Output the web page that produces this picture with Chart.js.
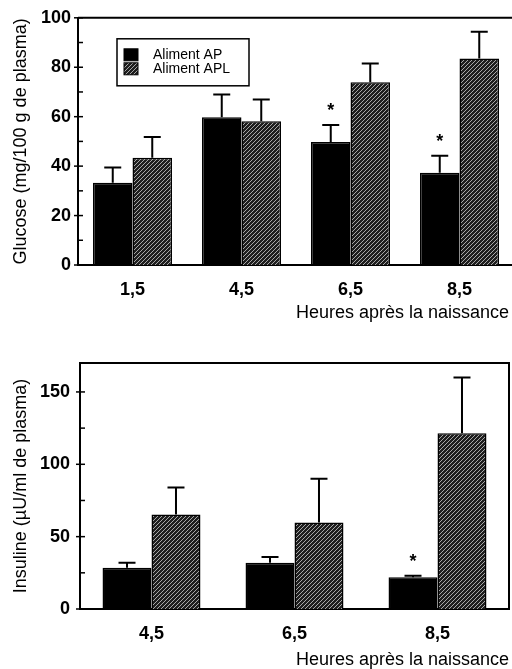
<!DOCTYPE html>
<html>
<head>
<meta charset="utf-8">
<script src="https://cdn.jsdelivr.net/npm/chart.js@4/dist/chart.umd.min.js"></script>
<style>
  html, body { margin: 0; padding: 0; background: #fff; width: 512px; height: 669px; overflow: hidden; }
  canvas { position: absolute; left: 0; }
  #glucose { top: 0; }
  #insuline { top: 330px; }
</style>
</head>
<body>
<canvas id="glucose" width="520" height="330"></canvas>
<canvas id="insuline" width="512" height="345"></canvas>
<script>
// glucose panel
const glucoseHours = ['1,5', '4,5', '6,5', '8,5'];
const glucoseAP = [33.3, 59.8, 49.8, 37.3];
const glucoseAPL = [43.4, 58.2, 73.9, 83.5];
const glucoseErrAP = [6.1, 9.2, 6.8, 6.9];
const glucoseErrAPL = [8.4, 8.8, 7.6, 10.9];
const glucoseStars = [false, false, true, true];

// insuline panel
const insulineHours = ['4,5', '6,5', '8,5'];
const insulineAP = [28.5, 32, 22];
const insulineAPL = [65.3, 59.7, 121.5];
const insulineErrAP = [3.5, 4, 1];
const insulineErrAPL = [18.7, 30.3, 38.5];
const insulineStars = [false, false, true];

Chart.defaults.font.family = "'Liberation Sans', Arial, sans-serif";
Chart.defaults.color = '#000';

function hatch() {
    const c = document.createElement('canvas');
    c.width = 4; c.height = 4;
    const g = c.getContext('2d');
    g.fillStyle = '#1e1e1e';
    g.fillRect(0, 0, 4, 4);
    g.strokeStyle = '#a8a8a8';
    g.lineWidth = 1;
    g.beginPath();
    g.moveTo(0, 4); g.lineTo(4, 0);
    g.moveTo(-1, 1); g.lineTo(1, -1);
    g.moveTo(3, 5); g.lineTo(5, 3);
    g.stroke();
    return g.createPattern(c, 'repeat');
}
const hatchFill = hatch();

const errorBars = {
    id: 'errorBars',
    afterDatasetsDraw(chart) {
        const ctx = chart.ctx;
        const y = chart.scales.y;
        ctx.save();
        ctx.strokeStyle = '#000';
        ctx.lineWidth = 2;
        chart.data.datasets.forEach((ds, i) => {
            chart.getDatasetMeta(i).data.forEach((bar, j) => {
                const top = y.getPixelForValue(ds.data[j] + ds.errors[j]);
                ctx.beginPath();
                ctx.moveTo(bar.x, bar.y);
                ctx.lineTo(bar.x, top);
                ctx.moveTo(bar.x - 8.5, top);
                ctx.lineTo(bar.x + 8.5, top);
                ctx.stroke();
                if (ds.stars && ds.stars[j]) {
                    ctx.fillStyle = '#000';
                    ctx.font = "bold 18px 'Liberation Sans', Arial, sans-serif";
                    ctx.textAlign = 'center';
                    ctx.textBaseline = 'middle';
                    ctx.fillText('*', bar.x, top - 14);
                }
            });
        });
        ctx.restore();
    }
};

const frame = {
    id: 'frame',
    afterDraw(chart) {
        const {ctx, chartArea: a} = chart;
        ctx.save();
        ctx.strokeStyle = '#000';
        ctx.lineWidth = 2;
        ctx.beginPath();
        ctx.moveTo(a.left, a.top);
        ctx.lineTo(a.right, a.top);
        ctx.lineTo(a.right, a.bottom);
        ctx.stroke();
        // inner tick marks on the y axis
        const y = chart.scales.y;
        const major = chart.options.scales.y.ticks.major;
        y.ticks.forEach(t => {
            const py = y.getPixelForValue(t.value);
            ctx.lineWidth = 1.5;
            ctx.beginPath();
            if (t.value % major === 0) {
                ctx.moveTo(a.left - 4, py);
                ctx.lineTo(a.left + 5, py);
            } else {
                ctx.moveTo(a.left, py);
                ctx.lineTo(a.left + 5, py);
            }
            ctx.stroke();
        });
        ctx.restore();
    }
};

const boxLegend = {
    id: 'boxLegend',
    afterDraw(chart, args, opts) {
        if (!opts.show) return;
        const {ctx, chartArea: a} = chart;
        const x = a.left + 39, y = a.top + 21;
        ctx.save();
        ctx.strokeStyle = '#000';
        ctx.lineWidth = 1.5;
        ctx.strokeRect(x, y, 132, 47);
        ctx.font = "14px 'Liberation Sans', Arial, sans-serif";
        ctx.textBaseline = 'middle';
        ctx.textAlign = 'left';
        chart.data.datasets.forEach((ds, i) => {
            const ry = y + 10 + i * 14;
            ctx.fillStyle = ds.backgroundColor;
            ctx.fillRect(x + 7, ry, 14, 12);
            ctx.lineWidth = 1;
            ctx.strokeRect(x + 7, ry, 14, 12);
            ctx.fillStyle = '#000';
            ctx.fillText(ds.label, x + 36, ry + 6);
        });
        ctx.restore();
    }
};

function makeChart(id, labels, ap, apl, errAP, errAPL, stars, cfg) {
    return new Chart(document.getElementById(id), {
        type: 'bar',
        data: {
            labels: labels,
            datasets: [
                { label: 'Aliment AP', data: ap, errors: errAP, stars: stars,
                  backgroundColor: '#000', borderColor: '#000', borderWidth: 1.5 },
                { label: 'Aliment APL', data: apl, errors: errAPL,
                  backgroundColor: hatchFill, borderColor: '#000', borderWidth: 1.5 }
            ]
        },
        options: {
            responsive: false,
            animation: false,
            layout: { padding: cfg.padding },
            datasets: { bar: { categoryPercentage: cfg.catPct, barPercentage: 1 } },
            plugins: {
                legend: { display: false },
                tooltip: { enabled: false },
                boxLegend: { show: cfg.legend }
            },
            scales: {
                x: {
                    grid: { display: false, drawTicks: false },
                    border: { display: true, color: '#000', width: 2 },
                    ticks: { font: { size: 18, weight: 'bold' }, padding: 14 },
                    title: {
                        display: true, text: cfg.xTitle, align: 'end',
                        font: { size: 18 }, padding: { top: 0, bottom: cfg.xTitlePad }
                    },
                    afterFit: s => { s.height = cfg.xHeight; }
                },
                y: {
                    min: 0, max: cfg.max,
                    grid: { display: false, drawTicks: false },
                    border: { display: true, color: '#000', width: 2 },
                    ticks: {
                        stepSize: cfg.step, major: cfg.major, padding: cfg.labelPad,
                        font: { size: 18, weight: 'bold' },
                        callback: v => (v % cfg.major === 0 ? v : '')
                    },
                    afterBuildTicks: s => { s.ticks = s.ticks.filter(t => t.value % cfg.step === 0); },
                    title: {
                        display: true, text: cfg.yTitle,
                        font: { size: 18 }, padding: { top: 10, bottom: 0 }
                    },
                    afterFit: s => { s.width = cfg.yWidth; }
                }
            }
        },
        plugins: [errorBars, frame, boxLegend]
    });
}

makeChart('glucose', glucoseHours, glucoseAP, glucoseAPL, glucoseErrAP, glucoseErrAPL, glucoseStars, {
    padding: { top: 16, right: 6, left: 0, bottom: 0 },
    catPct: 0.725, max: 100, step: 10, major: 20, labelPad: 7,
    // the plot runs past the page edge, the trailing space keeps the title inside it
    xTitle: 'Heures après la naissance ',
    yTitle: 'Glucose (mg/100 g de plasma)', yWidth: 78, xHeight: 65, xTitlePad: 6, legend: true
});

makeChart('insuline', insulineHours, insulineAP, insulineAPL, insulineErrAP, insulineErrAPL, insulineStars, {
    padding: { top: 33, right: 3, left: 0, bottom: 0 },
    catPct: 0.685, max: 170, step: 25, major: 50, labelPad: 10,
    xTitle: 'Heures après la naissance',
    yTitle: 'Insuline (µU/ml de plasma)', yWidth: 80, xHeight: 66, xTitlePad: 4, legend: false
});
</script>
</body>
</html>
